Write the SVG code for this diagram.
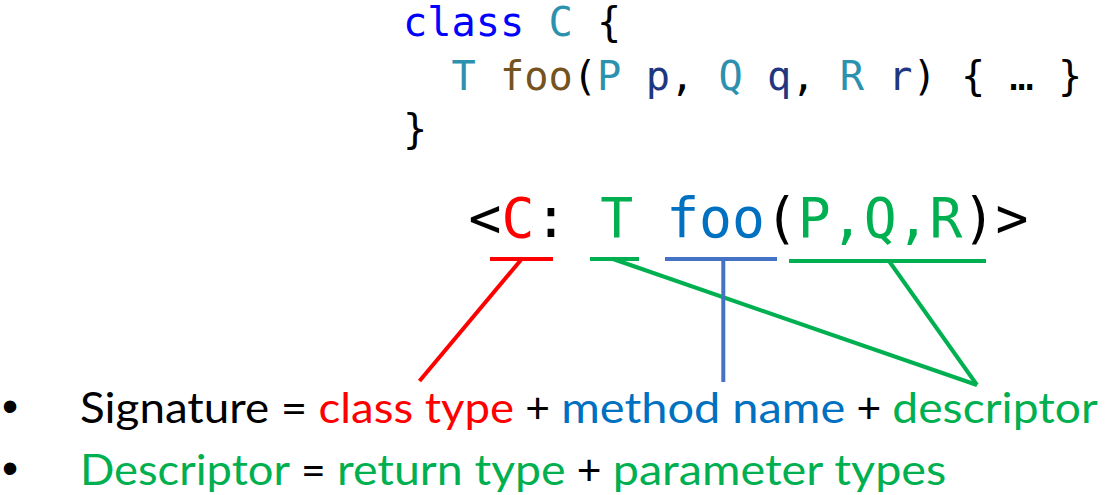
<svg xmlns="http://www.w3.org/2000/svg" width="1108" height="495" viewBox="0 0 1108 495">
  <style>
    .code { font-family: "DejaVu Sans Mono", "Liberation Mono", monospace; font-size: 40.3px; white-space: pre; }
    .sig { font-family: "DejaVu Sans Mono", "Liberation Mono", monospace; font-size: 54.7px; white-space: pre; }
    .body { font-family: Lato, "Open Sans", "Liberation Sans", sans-serif; font-size: 42px; }
    .bullet { font-family: "Liberation Sans", Arial, sans-serif; font-size: 46px; }
    .kw { fill: #0000FF; }
    .ty { fill: #2B91AF; }
    .fn { fill: #74531F; }
    .par { fill: #1F377F; }
    .pn { fill: #000000; }
    .red { fill: #FF0000; }
    .blue { fill: #0070C0; }
    .green { fill: #00B050; }
    .blk { fill: #000000; }
    .ln { fill: none; stroke-width: 4; stroke-linecap: butt; }
    .lred { stroke: #FF0000; }
    .lblue { stroke: #4472C4; }
    .lgreen { stroke: #00B050; }
  </style>

  <!-- source snippet -->
  <g id="code">
    <text class="code" x="403" y="36"><tspan class="kw">class</tspan> <tspan class="ty">C</tspan> <tspan class="pn">{</tspan></text>
    <text class="code" x="451.5" y="90"><tspan class="ty">T</tspan> <tspan class="fn">foo</tspan><tspan class="pn">(</tspan><tspan class="ty">P</tspan> <tspan class="par">p</tspan><tspan class="pn">,</tspan> <tspan class="ty">Q</tspan> <tspan class="par">q</tspan><tspan class="pn">,</tspan> <tspan class="ty">R</tspan> <tspan class="par">r</tspan><tspan class="pn">) { … }</tspan></text>
    <text class="code pn" x="403" y="143">}</text>
  </g>

  <!-- signature notation -->
  <g id="signature">
    <text class="sig" x="468.5" y="237"><tspan class="blk">&lt;</tspan><tspan class="red">C</tspan><tspan class="blk">:</tspan> <tspan class="green">T</tspan> <tspan class="blue">foo</tspan><tspan class="blk">(</tspan><tspan class="green">P,Q,R</tspan><tspan class="blk">)&gt;</tspan></text>
  </g>

  <!-- brackets and leader lines -->
  <g id="connectors">
    <line class="ln lred" x1="490" y1="259" x2="553" y2="259"/>
    <line class="ln lred" x1="521.7" y1="259" x2="419.5" y2="381"/>
    <line class="ln lgreen" x1="590" y1="259" x2="639" y2="259"/>
    <line class="ln lgreen" x1="613" y1="259" x2="977" y2="385"/>
    <line class="ln lblue" x1="665" y1="259" x2="777" y2="259"/>
    <line class="ln lblue" x1="723.3" y1="259" x2="723.3" y2="382"/>
    <line class="ln lgreen" x1="789" y1="261" x2="986" y2="261"/>
    <line class="ln lgreen" x1="889" y1="261" x2="977" y2="385"/>
  </g>

  <!-- bullet: signature -->
  <g id="bullet-signature">
    <text class="bullet blk" x="10" y="422" text-anchor="middle">•</text>
    <text class="body blk" x="80" y="423" textLength="227.4" lengthAdjust="spacingAndGlyphs">Signature =</text>
    <text class="body red" x="318.6" y="423" textLength="195.5" lengthAdjust="spacingAndGlyphs">class type</text>
    <text class="body blk" x="525.3" y="423" textLength="24.7" lengthAdjust="spacingAndGlyphs">+</text>
    <text class="body blue" x="561.2" y="423" textLength="284" lengthAdjust="spacingAndGlyphs">method name</text>
    <text class="body blk" x="856.4" y="423" textLength="24.7" lengthAdjust="spacingAndGlyphs">+</text>
    <text class="body green" x="892.3" y="423" textLength="205.5" lengthAdjust="spacingAndGlyphs">descriptor</text>
  </g>

  <!-- bullet: descriptor -->
  <g id="bullet-descriptor">
    <text class="bullet blk" x="10" y="483.5" text-anchor="middle">•</text>
    <text class="body green" x="80" y="485" textLength="209.9" lengthAdjust="spacingAndGlyphs">Descriptor</text>
    <text class="body blk" x="301.1" y="485" textLength="24.7" lengthAdjust="spacingAndGlyphs">=</text>
    <text class="body green" x="337" y="485" textLength="228.6" lengthAdjust="spacingAndGlyphs">return type</text>
    <text class="body blk" x="576.8" y="485" textLength="24.7" lengthAdjust="spacingAndGlyphs">+</text>
    <text class="body green" x="612.7" y="485" textLength="333.6" lengthAdjust="spacingAndGlyphs">parameter types</text>
  </g>
</svg>
